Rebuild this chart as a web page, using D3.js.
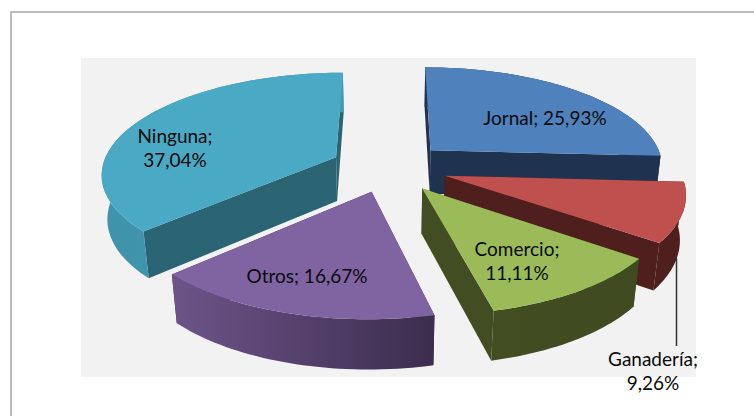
<!DOCTYPE html>
<html lang="es">
<head>
  <meta charset="UTF-8">
  <title>Ocupación</title>
  <script src="https://d3js.org/d3.v7.min.js"></script>
  <style>
    html, body { margin: 0; padding: 0; background: #fff; overflow: hidden; }
    svg { display: block; }
    .label { font-family: Lato, sans-serif; font-size: 19px; fill: #0a0a0a; text-anchor: middle; }
  </style>
</head>
<body>
  <svg id="chart" width="754" height="416"></svg>

  <script>
    const categories = ["Jornal", "Ganadería", "Comercio", "Otros", "Ninguna"];
    const values = [25.93, 9.26, 11.11, 16.67, 37.04];
    const valueLabels = ["25,93%", "9,26%", "11,11%", "16,67%", "37,04%"];

    const topColors = ["#4f81bd", "#c0504d", "#9bbb59", "#8064a2", "#4aa9c4"];
    const wallColors = ["#1f3350", "#4f1f1e", "#424d22", "#3c2d4e", "#2b6574"];
    const rimFrom = ["#1f3350", "#4f1f1e", "#424d22", "#6d5489", "#3f93ab"];
    const rimTo = ["#1f3350", "#4f1f1e", "#3f4a20", "#3c2d4e", "#4299b1"];

    // painter order, back to front
    const drawOrder = [0, 1, 4, 3, 2];

    // perspective of the pie plane
    const explode = 0.25, persp = 0.15, perspZ = 0.02;
    const xScale = d3.scaleLinear().domain([-1, 1]).range([389 - 234, 389 + 234]);
    const yScale = d3.scaleLinear().domain([-1, 1]).range([167 + 100, 167 - 100]);
    const depth = 45;

    function project(X, Y, Z) {
      const w = 1 + persp * Y + perspZ * Z;
      const x0 = xScale(0), y0 = yScale(0);
      return [x0 + (xScale(X) - x0) / w, y0 + (yScale(Y) - y0 + depth * Z) / w];
    }

    const svg = d3.select("#chart");
    const defs = svg.append("defs");
    const line = d3.line();

    // frame and plot area
    svg.append("rect").attr("x", 11).attr("y", 12).attr("width", 800).attr("height", 500)
      .attr("fill", "#fff").attr("stroke", "#a6a6a6").attr("stroke-width", 1.5);
    svg.append("rect").attr("x", 81).attr("y", 58).attr("width", 615).attr("height", 319)
      .attr("fill", "#f2f2f2");

    const arcs = d3.pie().sort(null)(values);

    drawOrder.forEach(i => {
      const a = arcs[i];
      const mid = (a.startAngle + a.endAngle) / 2;
      const ox = explode * Math.sin(mid), oy = explode * Math.cos(mid);
      const rimPoint = (t, z) => project(ox + Math.sin(t), oy + Math.cos(t), z);
      const steps = d3.range(0, 41).map(s => a.startAngle + (a.endAngle - a.startAngle) * s / 40);
      const topRim = steps.map(t => rimPoint(t, 0));
      const lowRim = steps.map(t => rimPoint(t, 1));
      const apexTop = project(ox, oy, 0), apexLow = project(ox, oy, 1);

      const grad = defs.append("linearGradient").attr("id", "rim" + i)
        .attr("gradientUnits", "userSpaceOnUse")
        .attr("x1", d3.min(topRim, p => p[0])).attr("x2", d3.max(topRim, p => p[0]))
        .attr("y1", 0).attr("y2", 0);
      grad.append("stop").attr("offset", 0).attr("stop-color", rimFrom[i]);
      grad.append("stop").attr("offset", 1).attr("stop-color", rimTo[i]);

      const g = svg.append("g").attr("class", "slice");
      // radial walls
      [0, topRim.length - 1].forEach(e => {
        g.append("path")
          .attr("d", line([apexTop, topRim[e], lowRim[e], apexLow]) + "Z")
          .attr("fill", wallColors[i]);
      });
      // curved wall
      g.append("path").attr("d", line(topRim.concat(lowRim.slice().reverse())) + "Z")
        .attr("fill", `url(#rim${i})`);
      // top face
      g.append("path").attr("d", line([apexTop].concat(topRim)) + "Z")
        .attr("fill", topColors[i]);
    });

    // leader line for Ganadería
    svg.append("line").attr("x1", 676.5).attr("y1", 258).attr("x2", 676.5).attr("y2", 346)
      .attr("stroke", "#333").attr("stroke-width", 1.5);

    const labelSpots = [
      { lines: [`${categories[0]}; ${valueLabels[0]}`], x: 545, y: 125 },
      { lines: [`${categories[1]};`, valueLabels[1]], x: 653, y: 366 },
      { lines: [`${categories[2]};`, valueLabels[2]], x: 517, y: 256 },
      { lines: [`${categories[3]}; ${valueLabels[3]}`], x: 307, y: 283 },
      { lines: [`${categories[4]};`, valueLabels[4]], x: 175, y: 143 }
    ];
    labelSpots.forEach(d => {
      d.lines.forEach((t, k) => {
        svg.append("text").attr("class", "label")
          .attr("x", d.x).attr("y", d.y + k * 24).text(t);
      });
    });
  </script>
</body>
</html>
